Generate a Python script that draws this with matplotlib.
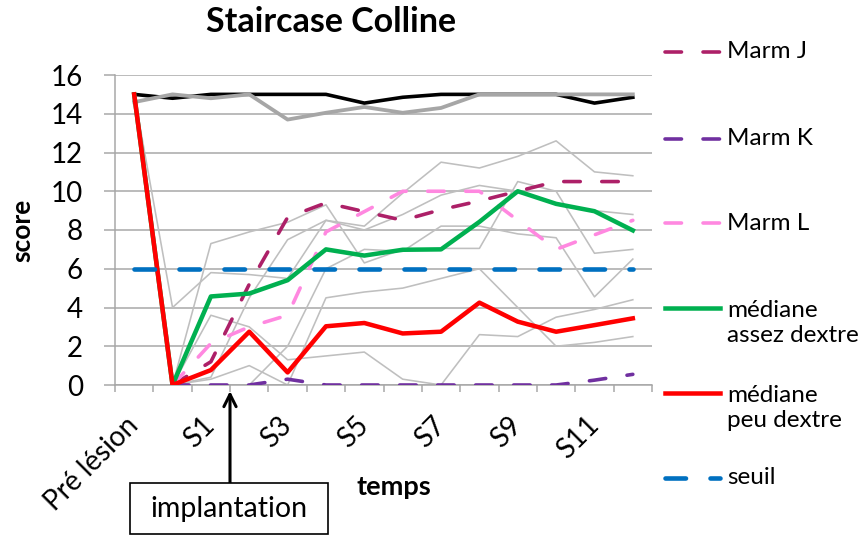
import numpy as np
import matplotlib
matplotlib.use("Agg")
import matplotlib.pyplot as plt
from matplotlib.lines import Line2D
from matplotlib.patches import Rectangle

plt.rcParams['font.family'] = ['Lato', 'DejaVu Sans']
plt.rcParams['lines.scale_dashes'] = False

# ---------------- data ----------------
categories = ['Pré lésion', 'S0', 'S1', 'S2', 'S3', 'S4', 'S5', 'S6',
              'S7', 'S8', 'S9', 'S10', 'S11', 'S12']
nan = np.nan

# individual animals (thin grey)
indiv_a = [15, 0, 7.3, 7.9, 8.4, 9.3, 6.3, 7.0, 7.05, 7.05, 10.5, 10.0, 6.8, 7.0]
indiv_b = [15, 4.0, 5.8, 5.7, 5.5, 8.5, 8.2, 9.9, 11.5, 11.2, 11.8, 12.6, 11.0, 10.8]
indiv_c = [15, 0, 3.6, 3.0, 1.3, 1.5, 1.7, 0.3, 0.0, 2.6, 2.5, 3.5, 3.9, 4.4]
indiv_d = [15, 0, 0.4, 4.5, 7.5, 8.5, 8.0, 8.8, 9.8, 10.3, 10.0, 9.3, 9.0, 8.8]
indiv_e = [15, 0, 0.3, 1.0, 0.0, 4.5, 4.8, 5.0, 5.5, 6.0, 4.0, 2.0, 2.2, 2.5]
indiv_f = [15, 0, 0, 0, 2.0, 6.0, 7.0, 6.9, 8.2, 8.2, 7.8, 7.6, 4.55, 6.5]
indiv_series = [indiv_a, indiv_b, indiv_c, indiv_d, indiv_e, indiv_f]

controle_noir = [15, 14.8, 15, 15, 15, 15, 14.55, 14.85, 15, 15, 15, 15, 14.55, 14.85]
controle_gris = [14.6, 15, 14.8, 15, 13.7, 14.05, 14.35, 14.05, 14.3, 15, 15, 15, 15, 15]

marm_j = [nan, 0, 1.2, 5.2, 8.65, 9.4, 8.95, 8.5, 9.05, 9.5, 10.0, 10.5, 10.5, 10.5]
marm_k = [nan, 0, 0, 0, 0.3, 0, 0, 0, 0, 0, 0, 0, 0.25, 0.55]
marm_l = [nan, 0, 2.15, 3.0, 3.6, 7.9, 8.95, 10.0, 10.0, 10.0, 8.5, 7.0, 7.75, 8.5]
mediane_assez = [15, 0, 4.57, 4.72, 5.41, 7.0, 6.68, 6.98, 7.0, 8.42, 10.0, 9.35, 8.97, 7.98]
mediane_peu = [15, 0, 0.77, 2.75, 0.65, 3.03, 3.2, 2.66, 2.75, 4.25, 3.27, 2.75, 3.09, 3.44]
seuil = [6] * 14

legend_labels = ['Marm J', 'Marm K', 'Marm L', 'médiane\nassez dextre',
                 'médiane\npeu dextre', 'seuil']

# ---------------- figure ----------------
W, H = 865, 536
fig = plt.figure(figsize=(W / 100, H / 100), dpi=100)

def px(v):
    return v * 0.72

ax = fig.add_axes([115 / W, 151 / H, 537 / W, 310 / H])
x = np.arange(len(categories))

c_grid = '#A6A6A6'
c_thin = '#BFBFBF'
c_j = '#AD2068'
c_k = '#7030A0'
c_l = '#FF88E0'
c_green = '#00B050'
c_red = '#FF0000'
c_blue = '#0070C0'

dash_marm = (0, (px(16.5), px(21.5)))
dash_seuil = (0, (px(20.5), px(24.5)))

for s in indiv_series:
    ax.plot(x, s, color=c_thin, lw=px(1.6), zorder=2)

ax.plot(x, controle_noir, color='black', lw=px(3.6), zorder=3)
ax.plot(x, controle_gris, color='#A6A6A6', lw=px(3.8), zorder=3)

ax.plot(x, marm_j, color=c_j, lw=px(3.6), linestyle=dash_marm,
        dash_capstyle='round', zorder=4)
ax.plot(x, marm_k, color=c_k, lw=px(3.6), linestyle=dash_marm,
        dash_capstyle='round', zorder=4)
ax.plot(x, marm_l, color=c_l, lw=px(3.6), linestyle=dash_marm,
        dash_capstyle='round', zorder=4)
ax.plot(x, mediane_assez, color=c_green, lw=px(4.5), zorder=5)
ax.plot(x, mediane_peu, color=c_red, lw=px(4.5), zorder=6)
ax.plot(x, seuil, color=c_blue, lw=px(4.6), linestyle=dash_seuil,
        dash_capstyle='round', zorder=7)

ax.set_xlim(-0.5, len(categories) - 0.5)
ax.set_ylim(0, 16)
ax.set_yticks(np.arange(0, 17, 2))
ax.yaxis.grid(True, color=c_grid, lw=px(1.5))
ax.set_axisbelow(True)
for sp in ['top', 'right']:
    ax.spines[sp].set_visible(False)
for sp in ['left', 'bottom']:
    ax.spines[sp].set_color(c_grid)
    ax.spines[sp].set_linewidth(px(1.5))

ax.tick_params(axis='y', length=px(11), width=px(1.5), color=c_grid,
               pad=px(21), labelsize=20)
ax.set_xticks(x[::2])
ax.set_xticklabels(categories[::2], rotation=45, ha='right', va='center',
                   rotation_mode='anchor', fontsize=20)
ax.tick_params(axis='x', which='major', length=0, pad=px(36))
ax.set_xticks(np.arange(-0.5, len(categories), 1), minor=True)
ax.tick_params(axis='x', which='minor', length=px(7), width=px(1.5),
               color=c_grid)

fig.text(331 / W, 1 - 22 / H, 'Staircase Colline', ha='center', va='center',
         fontsize=24.5, fontweight='bold')
fig.text(22 / W, 1 - 230 / H, 'score', rotation=90, ha='center', va='center',
         fontsize=19, fontweight='bold')
fig.text(394 / W, 1 - 487 / H, 'temps', ha='center', va='center',
         fontsize=19.5, fontweight='bold')

leg_y = [52, 139, 223, 308, 393, 478]
leg_styles = [
    dict(color=c_j, lw=px(3.6), linestyle=dash_marm, dash_capstyle='round'),
    dict(color=c_k, lw=px(3.6), linestyle=dash_marm, dash_capstyle='round'),
    dict(color=c_l, lw=px(3.6), linestyle=dash_marm, dash_capstyle='round'),
    dict(color=c_green, lw=px(4.5)),
    dict(color=c_red, lw=px(4.5)),
    dict(color=c_blue, lw=px(4.6), linestyle=dash_seuil, dash_capstyle='round'),
]
for yy, lab, st in zip(leg_y, legend_labels, leg_styles):
    yf = 1 - yy / H
    fig.add_artist(Line2D([665 / W, 720 / W], [yf, yf],
                          transform=fig.transFigure, **st))
    if '\n' in lab:
        fig.text(727 / W, 1 - (yy + 15) / H, lab, ha='left', va='center',
                 fontsize=17.5, linespacing=1.22)
    else:
        fig.text(727 / W, yf, lab, ha='left', va='center', fontsize=17.5)

fig.add_artist(Rectangle((130 / W, 2 / H), 198 / W, 51 / H,
                         transform=fig.transFigure, fill=True,
                         facecolor='white', edgecolor='black', lw=1.2))
fig.text(229 / W, 27 / H, 'implantation', ha='center', va='center',
         fontsize=20.5)
ax.annotate('', xy=(230, H - 391), xytext=(230, H - 483),
            xycoords='figure pixels', textcoords='figure pixels',
            arrowprops=dict(arrowstyle='->', lw=2.2, color='black',
                            mutation_scale=22, shrinkA=0, shrinkB=0))

fig.savefig('out.png', dpi=100)
